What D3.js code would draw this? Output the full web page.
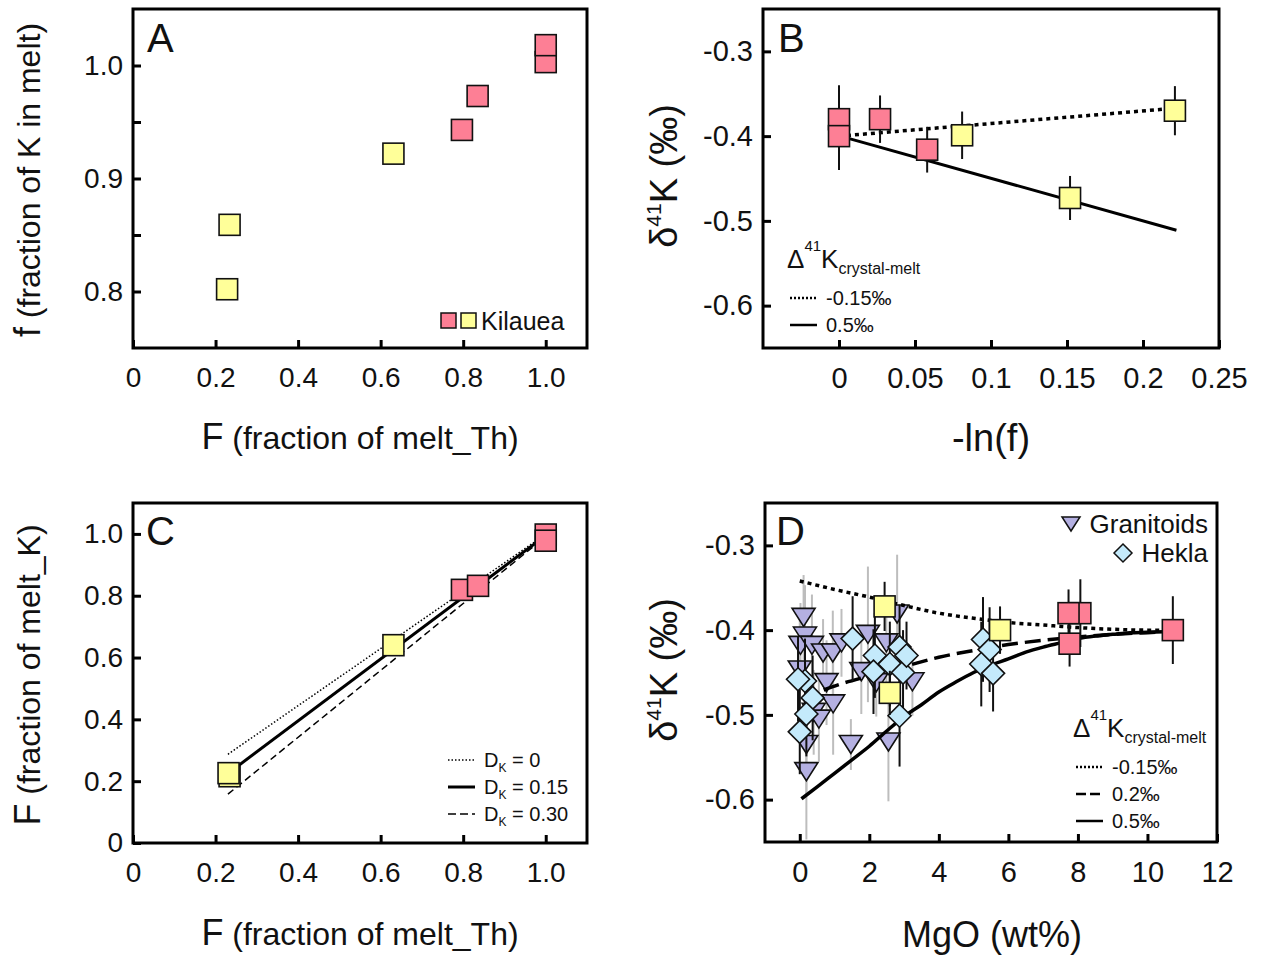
<!DOCTYPE html>
<html>
<head>
<meta charset="utf-8">
<script src="https://cdn.jsdelivr.net/npm/d3@7"></script>
<style>
  body { margin: 0; background: #fff; }
  text { font-family: "Liberation Sans", Arial, sans-serif; fill: #111; }
</style>
</head>
<body>
<svg id="fig" width="1262" height="960"></svg>
<script>
// ---- data ----
// A: F (fraction of melt, Th) vs f (fraction of K in melt)
var aPink   = [[0.797, 0.943], [0.835, 0.973], [1.0, 1.003], [1.0, 1.018]];
var aYellow = [[0.228, 0.802], [0.234, 0.859], [0.631, 0.922]];

// B: -ln(f) vs d41K, with 2sd
var bPink   = [[0, -0.38, 0.04], [0, -0.40, 0.04], [0.027, -0.38, 0.028], [0.058, -0.416, 0.027]];
var bYellow = [[0.081, -0.399, 0.028], [0.152, -0.473, 0.026], [0.221, -0.37, 0.029]];
var bModelNeg = [[0.0, -0.400], [0.222, -0.367]];   // -0.15 permil
var bModelPos = [[0.005, -0.402], [0.222, -0.511]]; // 0.5 permil

// C: F (Th) vs F (K)
var cPink   = [[0.797, 0.819], [0.836, 0.832], [1.0, 0.998], [1.0, 0.978]];
var cYellow = [[0.234, 0.216], [0.2315, 0.226], [0.631, 0.64]];
var cDk0  = [[0.23, 0.287], [0.985, 0.985]];
var cDk15 = [[0.23, 0.225], [0.985, 0.98]];
var cDk30 = [[0.23, 0.158], [0.985, 0.975]];

// D: MgO vs d41K
var dPink   = [[8.07, -0.38, 0.04], [7.73, -0.38, 0.028], [7.76, -0.416, 0.027], [10.73, -0.40, 0.04]];
var dYellow = [[2.44, -0.372, 0.029], [2.59, -0.474, 0.026], [5.76, -0.40, 0.028]];
var granitoids = [
  [0.11, -0.385, 0.05], [0.15, -0.407, 0.06], [0.02, -0.418, 0.05], [0.35, -0.418, 0.06],
  [0.67, -0.427, 0.04], [0.95, -0.427, 0.05], [1.2, -0.415, 0.04], [1.96, -0.405, 0.08],
  [2.8, -0.381, 0.07], [2.49, -0.415, 0.05], [1.77, -0.449, 0.05], [0.77, -0.462, 0.05],
  [2.2, -0.462, 0.04], [3.24, -0.461, 0.04], [0.0, -0.447, 0.06], [0.96, -0.487, 0.06],
  [0.4, -0.497, 0.05], [0.55, -0.505, 0.05], [0.19, -0.535, 0.06], [0.19, -0.567, 0.08],
  [1.47, -0.535, 0.03], [2.55, -0.532, 0.07]
];
var hekla = [
  [1.52, -0.41, 0.05], [2.16, -0.43, 0.05], [2.87, -0.42, 0.05], [2.59, -0.44, 0.05],
  [2.12, -0.449, 0.05], [2.97, -0.45, 0.05], [3.07, -0.43, 0.04], [2.87, -0.501, 0.06],
  [0.15, -0.46, 0.05], [-0.05, -0.458, 0.05], [0.37, -0.48, 0.05], [0.19, -0.499, 0.05],
  [0.0, -0.52, 0.05], [5.27, -0.411, 0.05], [5.46, -0.423, 0.05], [5.22, -0.44, 0.05],
  [5.56, -0.451, 0.045]
];
var dModelNeg = [[0, -0.342], [1, -0.352], [2, -0.361], [3, -0.371], [4, -0.38], [5, -0.386],
  [6, -0.391], [7, -0.394], [8, -0.397], [9, -0.399], [10, -0.400], [10.7, -0.400]];
var dModel02 = [[0.1, -0.483], [0.5, -0.474], [1, -0.466], [2, -0.454], [3, -0.443], [4, -0.432],
  [5, -0.424], [6, -0.417], [7, -0.412], [8, -0.408], [9, -0.405], [10, -0.403], [10.7, -0.402]];
var dModel05 = [[0.05, -0.599], [0.5, -0.585], [1, -0.569], [1.5, -0.553], [2, -0.537], [2.5, -0.519],
  [3, -0.502], [3.5, -0.488], [4, -0.473], [4.5, -0.461], [5, -0.45], [5.5, -0.441], [6, -0.434],
  [6.5, -0.426], [7, -0.42], [7.5, -0.415], [8, -0.41], [8.5, -0.407], [9, -0.405], [9.5, -0.403],
  [10, -0.4025], [10.7, -0.4015]];

var PINK = "#fd7f95", YELLOW = "#ffff99", LAV = "#b4b0e2", BLUE = "#c4eafb";

var svg = d3.select("#fig");

// frame + inward ticks
function panel(x, y, xt, yt, xfmt, yfmt, fs) {
  var g = svg.append("g");
  var gx = g.append("g")
    .attr("transform", "translate(0," + y.range()[0] + ")")
    .call(d3.axisBottom(x).tickValues(xt).tickSize(-8).tickPadding(19).tickFormat(xfmt));
  var gy = g.append("g")
    .attr("transform", "translate(" + x.range()[0] + ",0)")
    .call(d3.axisLeft(y).tickValues(yt).tickSize(-8).tickPadding(10).tickFormat(yfmt));
  [gx, gy].forEach(function(a) {
    a.select(".domain").remove();
    a.selectAll("line").attr("stroke", "#000").attr("stroke-width", 3);
    a.selectAll("text").style("font-size", fs + "px").attr("fill", "#111");
  });
  g.append("rect")
    .attr("x", x.range()[0]).attr("y", y.range()[1])
    .attr("width", x.range()[1] - x.range()[0]).attr("height", y.range()[0] - y.range()[1])
    .attr("fill", "none").attr("stroke", "#000").attr("stroke-width", 3);
  return g;
}

function squares(g, x, y, data, color, size) {
  g.selectAll(null).data(data).enter().append("rect")
    .attr("x", function(d) { return x(d[0]) - size / 2; })
    .attr("y", function(d) { return y(d[1]) - size / 2; })
    .attr("width", size).attr("height", size)
    .attr("fill", color).attr("stroke", "#111").attr("stroke-width", 1.6);
}

function errbars(g, x, y, data, color, w) {
  g.selectAll(null).data(data).enter().append("line")
    .attr("x1", function(d) { return x(d[0]); })
    .attr("x2", function(d) { return x(d[0]); })
    .attr("y1", function(d) { return y(d[1] - d[2]); })
    .attr("y2", function(d) { return y(d[1] + d[2]); })
    .attr("stroke", color).attr("stroke-width", w);
}

function model(g, x, y, data, w, dash) {
  g.append("path").datum(data)
    .attr("d", d3.line().x(function(d) { return x(d[0]); }).y(function(d) { return y(d[1]); }).curve(d3.curveMonotoneX))
    .attr("fill", "none").attr("stroke", "#000").attr("stroke-width", w)
    .attr("stroke-dasharray", dash);
}

function label(txt, x, y) {
  svg.append("text").attr("x", x).attr("y", y).style("font-size", "40px").text(txt);
}

function fmt1(d) { return d === 0 ? "0" : d.toFixed(1); }

// ---------------- A ----------------
var xA = d3.scaleLinear().domain([0, 1.1]).range([133, 587]);
var yA = d3.scaleLinear().domain([0.75, 1.05]).range([348, 9]);
var gA = panel(xA, yA, [0, 0.2, 0.4, 0.6, 0.8, 1.0], [0.8, 0.85, 0.9, 0.95, 1.0], fmt1,
  function(d) { return Math.abs(d * 10 - Math.round(d * 10)) < 1e-6 ? d.toFixed(1) : ""; }, 28);
squares(gA, xA, yA, aYellow, YELLOW, 21);
squares(gA, xA, yA, aPink, PINK, 21);
label("A", 147, 52);
gA.append("rect").attr("x", 441).attr("y", 313).attr("width", 15).attr("height", 15)
  .attr("fill", PINK).attr("stroke", "#111").attr("stroke-width", 1.5);
gA.append("rect").attr("x", 461).attr("y", 313).attr("width", 15).attr("height", 15)
  .attr("fill", YELLOW).attr("stroke", "#111").attr("stroke-width", 1.5);
gA.append("text").attr("x", 481).attr("y", 330).style("font-size", "25px").text("Kilauea");

// ---------------- B ----------------
var xB = d3.scaleLinear().domain([-0.05, 0.25]).range([763, 1219]);
var yB = d3.scaleLinear().domain([-0.65, -0.25]).range([348, 9]);
var gB = panel(xB, yB, [0, 0.05, 0.1, 0.15, 0.2, 0.25], [-0.3, -0.4, -0.5, -0.6],
  function(d) { return d === 0 ? "0" : String(+d.toFixed(2)); }, function(d) { return d.toFixed(1); }, 28);
gB.selectAll("text").style("font-size", "29px");
model(gB, xB, yB, bModelNeg, 3.5, "4,4");
model(gB, xB, yB, bModelPos, 3);
errbars(gB, xB, yB, bPink.concat(bYellow), "#111", 2);
squares(gB, xB, yB, bPink, PINK, 21);
squares(gB, xB, yB, bYellow, YELLOW, 21);
label("B", 778, 52);

// ---------------- C ----------------
var xC = d3.scaleLinear().domain([0, 1.1]).range([133, 587]);
var yC = d3.scaleLinear().domain([0, 1.1]).range([843, 503]);
var gC = panel(xC, yC, [0, 0.2, 0.4, 0.6, 0.8, 1.0], [0, 0.2, 0.4, 0.6, 0.8, 1.0], fmt1, fmt1, 28);
model(gC, xC, yC, cDk0, 1.5, "1.5,2");
model(gC, xC, yC, cDk30, 1.5, "7,4");
model(gC, xC, yC, cDk15, 3);
squares(gC, xC, yC, cYellow, YELLOW, 21);
squares(gC, xC, yC, cPink, PINK, 21);
label("C", 146, 545);

// ---------------- D ----------------
var xD = d3.scaleLinear().domain([-1, 12]).range([765, 1217]);
var yD = d3.scaleLinear().domain([-0.65, -0.25]).range([842, 503]);
var gD = panel(xD, yD, [0, 2, 4, 6, 8, 10, 12], [-0.3, -0.4, -0.5, -0.6],
  function(d) { return String(d); }, function(d) { return d.toFixed(1); }, 28);
gD.selectAll("text").style("font-size", "29px");
var tri = "M-11.5,-9L11.5,-9L0,9Z", dia = "M0,-11.5L11.5,0L0,11.5L-11.5,0Z";
errbars(gD, xD, yD, granitoids, "#bdbdbd", 2);
gD.selectAll(null).data(granitoids).enter().append("path")
  .attr("d", tri)
  .attr("transform", function(d) { return "translate(" + xD(d[0]) + "," + yD(d[1]) + ")"; })
  .attr("fill", LAV).attr("stroke", "#111").attr("stroke-width", 1.6);
model(gD, xD, yD, dModelNeg, 3.5, "4,4");
model(gD, xD, yD, dModel02, 3.5, "16,7");
model(gD, xD, yD, dModel05, 3.5);
errbars(gD, xD, yD, hekla, "#111", 2);
gD.selectAll(null).data(hekla).enter().append("path")
  .attr("d", dia)
  .attr("transform", function(d) { return "translate(" + xD(d[0]) + "," + yD(d[1]) + ")"; })
  .attr("fill", BLUE).attr("stroke", "#111").attr("stroke-width", 1.6);
errbars(gD, xD, yD, dPink.concat(dYellow), "#111", 2);
squares(gD, xD, yD, dYellow, YELLOW, 21);
squares(gD, xD, yD, dPink, PINK, 21);
label("D", 776, 545);

// D legend
gD.append("path").attr("d", "M-9,-7L9,-7L0,7Z").attr("transform", "translate(1071,524)")
  .attr("fill", LAV).attr("stroke", "#111").attr("stroke-width", 1.5);
gD.append("text").attr("x", 1208).attr("y", 533).attr("text-anchor", "end").style("font-size", "26px").text("Granitoids");
gD.append("path").attr("d", "M0,-9L9,0L0,9L-9,0Z").attr("transform", "translate(1123,553)")
  .attr("fill", BLUE).attr("stroke", "#111").attr("stroke-width", 1.5);
gD.append("text").attr("x", 1208).attr("y", 562).attr("text-anchor", "end").style("font-size", "26px").text("Hekla");

// delta legend helper
function deltaLegend(x0, y0, rows) {
  var t = svg.append("text").attr("x", x0).attr("y", y0).style("font-size", "26px");
  t.append("tspan").text("\u0394");
  t.append("tspan").attr("dy", -17).style("font-size", "15px").text("41");
  t.append("tspan").attr("dy", 17).text("K");
  t.append("tspan").attr("dy", 6).style("font-size", "16px").text("crystal-melt");
  rows.forEach(function(r, i) {
    var yy = y0 + 30 + i * 27;
    svg.append("line").attr("x1", x0 + 3).attr("x2", x0 + 30).attr("y1", yy).attr("y2", yy)
      .attr("stroke", "#000").attr("stroke-width", 2.5).attr("stroke-dasharray", r[1]);
    svg.append("text").attr("x", x0 + 39).attr("y", yy + 7).style("font-size", "20px").text(r[0]);
  });
}
deltaLegend(787, 268, [["-0.15\u2030", "2,2"], ["0.5\u2030", null]]);
deltaLegend(1073, 737, [["-0.15\u2030", "2,2"], ["0.2\u2030", "10,4"], ["0.5\u2030", null]]);

// C legend
[["0", "1.5,2", 1.5], ["0.15", null, 3], ["0.30", "8,4", 1.5]].forEach(function(r, i) {
  var yy = 760 + i * 27;
  svg.append("line").attr("x1", 448).attr("x2", 475).attr("y1", yy).attr("y2", yy)
    .attr("stroke", "#000").attr("stroke-width", r[2]).attr("stroke-dasharray", r[1]);
  var t = svg.append("text").attr("x", 484).attr("y", yy + 7).style("font-size", "20px");
  t.append("tspan").text("D");
  t.append("tspan").attr("dy", 5).style("font-size", "12px").text("K");
  t.append("tspan").attr("dy", -5).text(" = " + r[0]);
});

// axis titles
function xTitle(cx, y, big, rest, fs) {
  var t = svg.append("text").attr("x", cx).attr("y", y).attr("text-anchor", "middle").style("font-size", fs + "px");
  t.append("tspan").style("font-size", (fs + 4) + "px").text(big);
  if (rest) t.append("tspan").text(" " + rest);
}
function yTitle(cx, cy, big, rest) {
  var t = svg.append("text").attr("transform", "translate(" + cx + "," + cy + ") rotate(-90)")
    .attr("text-anchor", "middle").style("font-size", "32px");
  t.append("tspan").style("font-size", "36px").text(big);
  t.append("tspan").text(" " + rest);
}
function yDelta(cx, cy) {
  var t = svg.append("text").attr("transform", "translate(" + cx + "," + cy + ") rotate(-90)")
    .attr("text-anchor", "middle").style("font-size", "38px");
  t.append("tspan").text("\u03b4");
  t.append("tspan").attr("dy", -16).style("font-size", "21px").text("41");
  t.append("tspan").attr("dy", 16).text("K (\u2030)");
}
xTitle(360, 449, "F", "(fraction of melt_Th)", 32);
xTitle(360, 945, "F", "(fraction of melt_Th)", 32);
xTitle(991, 451, "-ln(f)", null, 34);
xTitle(992, 947, "MgO (wt%)", null, 32);
yTitle(40, 180, "f", "(fraction of K in melt)");
yTitle(40, 675, "F", "(fraction of melt_K)");
yDelta(677, 176);
yDelta(677, 670);
</script>
</body>
</html>
